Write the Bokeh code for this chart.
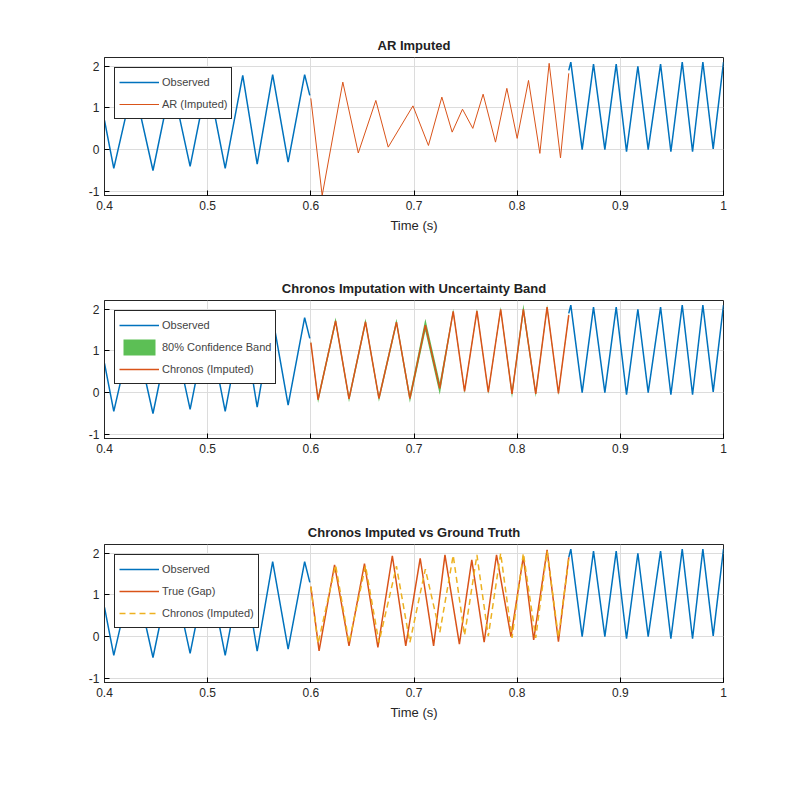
from bokeh.plotting import figure
from bokeh.layouts import column
from bokeh.models import FixedTicker, Range1d, Legend, LegendItem
from bokeh.embed import file_html
from bokeh.resources import INLINE

obs_l_t = [0.400, 0.409, 0.428, 0.447, 0.465, 0.483, 0.500, 0.517, 0.534, 0.548, 0.563, 0.578, 0.594, 0.599]
obs_l_y = [0.7, -0.45, 1.6, -0.5, 1.65, -0.4, 1.7, -0.45, 1.78, -0.35, 1.8, -0.3, 1.8, 1.3]
obs_r_t = [0.850, 0.852, 0.863, 0.874, 0.885, 0.896, 0.906, 0.917, 0.927, 0.939, 0.949, 0.960, 0.970, 0.980, 0.990, 1.000]
obs_r_y = [1.9, 2.1, 0.0, 2.05, 0.0, 2.05, -0.05, 2.0, 0.0, 2.05, -0.05, 2.1, -0.05, 2.1, 0.02, 2.1]

ar_t = [0.600, 0.611, 0.631, 0.646, 0.663, 0.675, 0.699, 0.714, 0.727, 0.737, 0.747, 0.757, 0.767, 0.779, 0.790, 0.800, 0.811, 0.822, 0.831, 0.842, 0.850]
ar_y = [1.23, -1.1, 1.62, -0.08, 1.18, 0.06, 1.05, 0.1, 1.26, 0.42, 0.97, 0.51, 1.33, 0.18, 1.47, 0.27, 1.66, -0.09, 2.07, -0.2, 1.83]

ch_t = [0.600, 0.607, 0.624, 0.637, 0.653, 0.666, 0.683, 0.696, 0.711, 0.725, 0.738, 0.749, 0.761, 0.772, 0.784, 0.795, 0.806, 0.818, 0.829, 0.840, 0.850]
ch_y = [1.2, -0.17, 1.72, -0.15, 1.7, -0.14, 1.69, -0.14, 1.62, 0.1, 1.95, 0.03, 1.96, 0.01, 2.0, -0.03, 2.0, -0.03, 2.05, -0.02, 1.86]
ch_hw = [0.05, 0.08, 0.08, 0.08, 0.08, 0.08, 0.08, 0.1, 0.15, 0.15, 0.06, 0.05, 0.05, 0.05, 0.06, 0.1, 0.12, 0.08, 0.06, 0.05, 0.05]

true_t = [0.600, 0.608, 0.623, 0.637, 0.652, 0.665, 0.679, 0.692, 0.706, 0.719, 0.730, 0.744, 0.756, 0.768, 0.780, 0.794, 0.806, 0.816, 0.829, 0.840, 0.850]
true_y = [1.2, -0.34, 1.72, -0.22, 1.75, -0.26, 1.94, -0.22, 1.88, -0.22, 1.96, -0.18, 1.84, -0.13, 1.96, 0.0, 1.92, -0.08, 2.08, -0.12, 1.9]

xticks = [0.4, 0.5, 0.6, 0.7, 0.8, 0.9, 1.0]
xlabels = ["0.4", "0.5", "0.6", "0.7", "0.8", "0.9", "1"]
yticks = [-1, 0, 1, 2]

BLUE = "#0072BD"
RED = "#D95319"
GREEN = "#5CBF55"
YEL = "#EDB120"

def make(title, top, bottom, xlabel):
    p = figure(frame_width=619, frame_height=138, output_backend="svg", toolbar_location=None,
               x_range=Range1d(0.4, 1.0), y_range=Range1d(-1.1, 2.21),
               min_border_left=104, min_border_right=61, min_border_top=top, min_border_bottom=bottom)
    p.title.text = title
    p.title.align = "center"
    p.title.text_font = "Liberation Sans"
    p.title.text_font_size = "13px"
    p.title.text_color = "#222222"
    p.outline_line_color = "#262626"
    p.outline_line_alpha = 1
    for ax in (p.xaxis[0], p.yaxis[0]):
        ax.major_tick_in = 5
        ax.major_tick_out = 0
        ax.minor_tick_line_color = None
        ax.axis_line_color = "#262626"
        ax.major_label_text_font = "Liberation Sans"
        ax.major_label_text_font_size = "12px"
        ax.major_label_text_color = "#262626"
    p.xaxis[0].ticker = FixedTicker(ticks=xticks)
    p.xaxis[0].major_label_overrides = {t: l for t, l in zip(xticks, xlabels)}
    p.yaxis[0].ticker = FixedTicker(ticks=yticks)
    p.yaxis[0].major_label_overrides = {-1: "-1", 0: "0", 1: "1", 2: "2"}
    if xlabel:
        p.xaxis[0].axis_label = xlabel
        p.xaxis[0].axis_label_text_font = "Liberation Sans"
        p.xaxis[0].axis_label_text_font_style = "normal"
        p.xaxis[0].axis_label_text_font_size = "13px"
        p.xaxis[0].axis_label_text_color = "#262626"
    p.xgrid.ticker = FixedTicker(ticks=xticks)
    p.ygrid.ticker = FixedTicker(ticks=yticks)
    p.grid.grid_line_color = "#dcdcdc"
    return p

def add_legend(p, items):
    lg = Legend(items=items, location="top_left", label_text_font="Liberation Sans",
                label_text_font_size="11px", border_line_color="#262626", border_line_alpha=1,
                margin=10, padding=4, spacing=2, glyph_width=40, label_standoff=3,
                background_fill_alpha=1)
    p.add_layout(lg, "center")

# Panel 1
p1 = make("AR Imputed", 57, 60, "Time (s)")
o1 = p1.line(obs_l_t, obs_l_y, line_color=BLUE, line_width=1.5)
p1.line(obs_r_t, obs_r_y, line_color=BLUE, line_width=1.5)
a1 = p1.line(ar_t, ar_y, line_color=RED, line_width=1)
add_legend(p1, [LegendItem(label="Observed", renderers=[o1]), LegendItem(label="AR (Imputed)", renderers=[a1])])

# Panel 2
p2 = make("Chronos Imputation with Uncertainty Band", 45, 61, None)
lo = [y - h for y, h in zip(ch_y, ch_hw)]
hi = [y + h for y, h in zip(ch_y, ch_hw)]
b2 = p2.varea(x=ch_t, y1=lo, y2=hi, fill_color=GREEN, fill_alpha=1)
o2 = p2.line(obs_l_t, obs_l_y, line_color=BLUE, line_width=1.5)
p2.line(obs_r_t, obs_r_y, line_color=BLUE, line_width=1.5)
c2 = p2.line(ch_t, ch_y, line_color=RED, line_width=1.5)
add_legend(p2, [LegendItem(label="Observed", renderers=[o2]), LegendItem(label="80% Confidence Band", renderers=[b2]),
                LegendItem(label="Chronos (Imputed)", renderers=[c2])])

# Panel 3
p3 = make("Chronos Imputed vs Ground Truth", 45, 60, "Time (s)")
o3 = p3.line(obs_l_t, obs_l_y, line_color=BLUE, line_width=1.5)
p3.line(obs_r_t, obs_r_y, line_color=BLUE, line_width=1.5)
t3 = p3.line(true_t, true_y, line_color=RED, line_width=1.5)
c3 = p3.line(ch_t, ch_y, line_color=YEL, line_width=1.5, line_dash="6 4")
add_legend(p3, [LegendItem(label="Observed", renderers=[o3]), LegendItem(label="True (Gap)", renderers=[t3]),
                LegendItem(label="Chronos (Imputed)", renderers=[c3])])

layout = column(p1, p2, p3, spacing=0)
open("out.html", "w").write(file_html(layout, INLINE))
